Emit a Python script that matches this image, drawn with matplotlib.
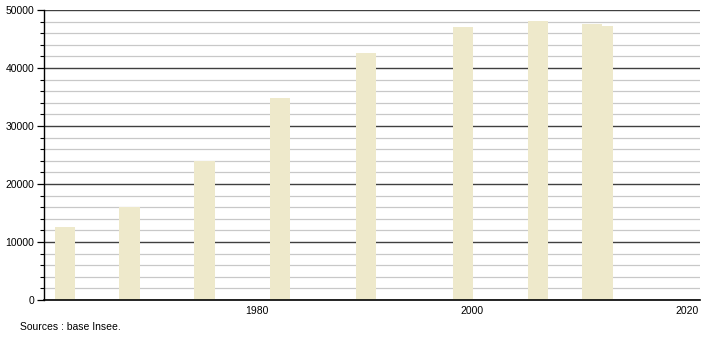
import matplotlib
matplotlib.use("Agg")
import matplotlib.pyplot as plt
from matplotlib.ticker import MultipleLocator

plt.rcParams["font.family"] = ["Liberation Sans", "DejaVu Sans"]

years = [1962, 1968, 1975, 1982, 1990, 1999, 2006, 2011, 2012]
population = [12640, 16090, 23970, 34780, 42640, 47050, 48050, 47600, 47200]
xtick_labels = [1980, 2000, 2020]

fig = plt.figure(figsize=(7.1, 3.4), dpi=100)
ax = fig.add_axes([44/710, 40/340, (700-44)/710, 290/340])

ax.set_xlim(1960.2, 2021.2)
ax.set_ylim(0, 50000)

ax.yaxis.set_major_locator(MultipleLocator(10000))
ax.yaxis.set_minor_locator(MultipleLocator(2000))
ax.grid(which="minor", axis="y", color="#c8c8c8", linewidth=0.9, zorder=0)
ax.grid(which="major", axis="y", color="#404040", linewidth=1.0, zorder=0)
ax.set_axisbelow(True)

ax.bar([y + 0.15 for y in years], population, width=1.92, color="#EEE9CB",
       edgecolor="none", linewidth=0, zorder=2)

ax.set_xticks(xtick_labels)
ax.set_xticklabels([str(v) for v in xtick_labels])
ax.tick_params(axis="x", length=0, labelsize=7.5, pad=4)
ax.tick_params(axis="y", which="major", length=5, width=0.9, labelsize=7.5, pad=2, direction="out")
ax.tick_params(axis="y", which="minor", length=3, width=0.8, direction="out")
ax.set_yticklabels([str(int(v)) for v in ax.get_yticks()])

for s in ["top", "right"]:
    ax.spines[s].set_visible(False)
ax.spines["left"].set_color("#000000")
ax.spines["bottom"].set_color("#000000")
ax.spines["left"].set_linewidth(1.0)
ax.spines["bottom"].set_linewidth(1.2)

fig.text(20/710, 1 - 327/340, "Sources : base Insee.", fontsize=7.5, va="center", ha="left")

fig.savefig("out.png", dpi=100)
